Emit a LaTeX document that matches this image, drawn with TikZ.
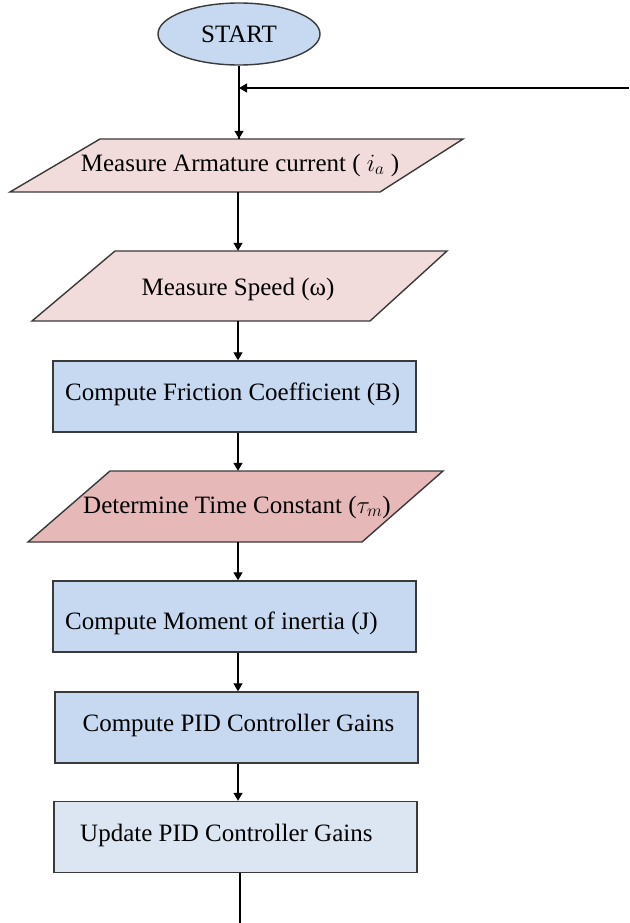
\documentclass[tikz,border=0pt]{standalone}
\usepackage{fontspec}
\setmainfont{Liberation Serif}
\usetikzlibrary{arrows.meta,shapes.geometric,calc}
\definecolor{startblue}{HTML}{C6D9F1}
\definecolor{boxblue}{HTML}{C6D9F1}
\definecolor{lightblue}{HTML}{DCE6F2}
\definecolor{palepink}{HTML}{F2DCDB}
\definecolor{rosepink}{HTML}{E6B9B8}
\definecolor{edgegray}{HTML}{3A3A3A}
\begin{document}
\begin{tikzpicture}[x=1pt,y=-1pt,
  font=\fontsize{25}{29}\selectfont,
  outline/.style={draw=edgegray, line width=1.4pt},
  procbox/.style={outline, rectangle, inner sep=0pt, minimum width=363pt, minimum height=71pt},
  frame/.style={inner sep=0pt, minimum width=280pt},
  lbl/.style={inner sep=0pt, anchor=base},
  conn/.style={line width=1.3pt, black},
  arr/.style={conn, -{Triangle[length=8pt,width=9pt]}}
]
\useasboundingbox (0,0) rectangle (629,923);

% START
\node[outline, ellipse, fill=startblue, minimum width=162pt, minimum height=62pt, inner sep=0pt] (start) at (239,34) {START};

% parallelogram 1
\path[outline, fill=palepink] (100,139) -- (463,139) -- (380,192) -- (10,192) -- cycle;
\node[frame, minimum height=53pt] (p1) at (238,165.5) {};
\node[lbl] (p1t) at (240,171) {Measure Armature current ( $i_a$ )};

% parallelogram 2
\path[outline, fill=palepink] (115,251) -- (447,251) -- (370,321) -- (32,321) -- cycle;
\node[frame, minimum height=70pt] (p2) at (239,286) {};
\node[lbl] (p2t) at (238,295) {Measure Speed (ω)};

% box 3
\node[procbox, fill=boxblue] (b3) at (234.5,396.5) {};
\node[lbl, anchor=base west] (b3t) at (65,400) {Compute Friction Coefficient (B)};

% parallelogram 4
\path[outline, fill=rosepink] (110,471) -- (443,471) -- (362,542) -- (28,542) -- cycle;
\node[frame, minimum height=71pt] (p4) at (236,506.5) {};
\node[lbl] (p4t) at (237,513) {Determine Time Constant ($\tau_m$)};

% box 5
\node[procbox, fill=boxblue] (b5) at (234.5,616.5) {};
\node[lbl, anchor=base west] (b5t) at (65,629) {Compute Moment of inertia (J)};

% box 6
\node[procbox, fill=boxblue] (b6) at (236.5,727.5) {};
\node[lbl] (b6t) at (238.5,731) {Compute PID Controller Gains};

% box 7
\node[procbox, fill=lightblue] (b7) at (235.5,837) {};
\node[lbl, anchor=base west] (b7t) at (80,841) {Update PID Controller Gains};

% connectors
\coordinate (axis) at (238,0);
\coordinate (fbstart) at (629,88);
\coordinate (tail) at (240,923);

\draw[conn] (start.south) -- (start.south |- p1.north);
\draw[arr] (fbstart) -- (fbstart -| start.south);
\draw[arr] (start.south |- fbstart) -- (start.south |- p1.north);
\draw[arr] (p1.south -| axis) -- (p2.north -| axis);
\draw[arr] (p2.south -| axis) -- (b3.north -| axis);
\draw[arr] (b3.south -| axis) -- (p4.north -| axis);
\draw[arr] (p4.south -| axis) -- (b5.north -| axis);
\draw[arr] (b5.south -| axis) -- (b6.north -| axis);
\draw[arr] (b6.south -| axis) -- (b7.north -| axis);
\draw[conn] (b7.south -| tail) -- (tail);
\end{tikzpicture}
\end{document}
